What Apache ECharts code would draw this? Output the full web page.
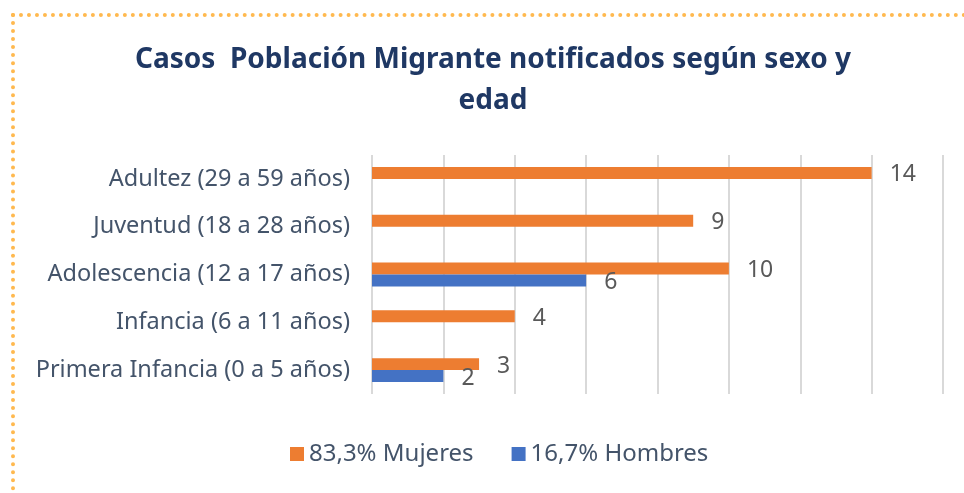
<!DOCTYPE html>
<html>
<head>
<meta charset="utf-8">
<script src="https://cdn.jsdelivr.net/npm/echarts@6/dist/echarts.min.js"></script>
<style>
  html, body { margin: 0; padding: 0; background: #fff; }
  #frame {
    position: absolute; left: 11px; top: 13px; width: 960px; height: 490px;
    border-top: 4px dotted #ffb94f; border-left: 4px dotted #ffb94f;
  }
  #chart { position: absolute; left: 0; top: 0; width: 964px; height: 493px; }
</style>
</head>
<body>
<div id="frame"></div>
<div id="chart"></div>
<script>
const categories = [
  'Primera Infancia (0 a 5 años)',
  'Infancia (6 a 11 años)',
  'Adolescencia (12 a 17 años)',
  'Juventud (18 a 28 años)',
  'Adultez (29 a 59 años)'
];
const mujeres = [3, 4, 10, 9, 14];
const hombres = [2, null, 6, null, null];
const seriesNames = ['83,3% Mujeres', '16,7% Hombres'];

const font = 'Noto Sans';
const chart = echarts.init(document.getElementById('chart'));

const labelStyle = {
  show: true,
  position: 'right',
  distance: 18,
  offset: [0, 2],
  color: '#595959',
  fontSize: 23,
  fontFamily: font
};

chart.setOption({
  animation: false,
  title: {
    text: 'Casos  Población Migrante notificados según sexo y\nedad',
    left: 488,
    textAlign: 'center',
    top: 35,
    textStyle: {
      color: '#1f3864',
      fontSize: 28,
      fontWeight: 'bold',
      fontFamily: font,
      lineHeight: 41
    }
  },
  legend: {
    data: seriesNames,
    bottom: 22,
    left: 285,
    itemWidth: 14,
    itemHeight: 14,
    itemGap: 38,
    icon: 'rect',
    textStyle: { color: '#44546a', fontSize: 24, fontFamily: font }
  },
  grid: {
    left: 372,
    right: 21,
    top: 155,
    bottom: 99
  },
  xAxis: {
    type: 'value',
    min: 0,
    max: 16,
    interval: 2,
    axisLabel: { show: false },
    axisLine: { show: false },
    axisTick: { show: false },
    splitLine: { lineStyle: { color: '#d9d9d9', width: 2 } }
  },
  yAxis: {
    type: 'category',
    data: categories,
    axisTick: { show: false },
    axisLine: { show: false },
    axisLabel: {
      color: '#44546a',
      fontSize: 23.5,
      fontFamily: font,
      margin: 22
    }
  },
  series: [
    {
      name: seriesNames[0],
      type: 'bar',
      data: mujeres,
      itemStyle: { color: '#ed7d31' },
      barGap: '0%',
      barCategoryGap: '50%',
      label: labelStyle
    },
    {
      name: seriesNames[1],
      type: 'bar',
      data: hombres,
      itemStyle: { color: '#4472c4' },
      label: labelStyle
    }
  ]
});

window.addEventListener('resize', () => {
  chart.resize();
});
</script>
</body>
</html>
